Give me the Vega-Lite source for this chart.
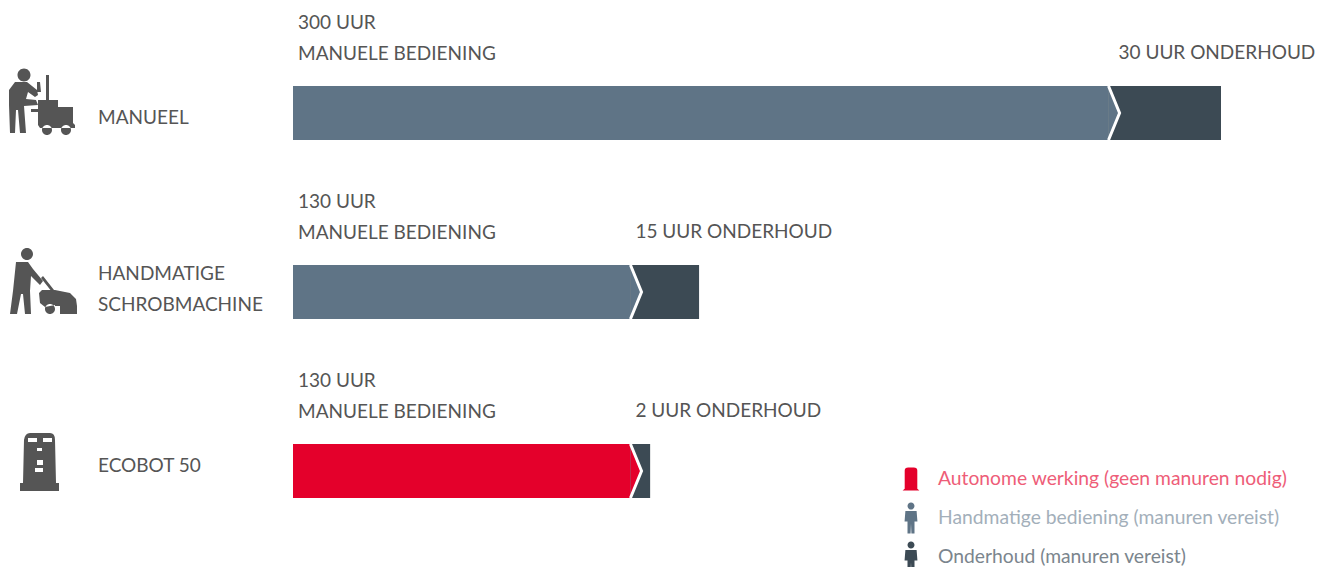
{"$schema":"https://vega.github.io/schema/vega-lite/v6.json","width":1320,"height":567,"padding":0,"autosize":{"type":"none"},"background":"#ffffff","config":{"view":{"stroke":null},"text":{"font":"Lato","fontSize":19,"fill":"#555555"}},
"data":{"values":[
{"machine":"MANUEEL","type":"Handmatige bediening (manuren vereist)","start":0,"end":290,"label":["300 UUR","MANUELE BEDIENING"],"name":["MANUEEL"]},
{"machine":"MANUEEL","type":"Onderhoud (manuren vereist)","start":290,"end":330,"label":["30 UUR ONDERHOUD"]},
{"machine":"HANDMATIGE SCHROBMACHINE","type":"Handmatige bediening (manuren vereist)","start":0,"end":120,"label":["130 UUR","MANUELE BEDIENING"],"name":["HANDMATIGE","SCHROBMACHINE"]},
{"machine":"HANDMATIGE SCHROBMACHINE","type":"Onderhoud (manuren vereist)","start":120,"end":144.4,"label":["15 UUR ONDERHOUD"]},
{"machine":"ECOBOT 50","type":"Autonome werking (geen manuren nodig)","start":0,"end":120,"label":["130 UUR","MANUELE BEDIENING"],"name":["ECOBOT 50"]},
{"machine":"ECOBOT 50","type":"Onderhoud (manuren vereist)","start":120,"end":127,"label":["2 UUR ONDERHOUD"]}
]},
"encoding":{
"x":{"field":"start","type":"quantitative","axis":null,"scale":{"domain":[0,330],"range":[293,1221]}},
"y":{"field":"machine","type":"nominal","axis":null,"scale":{"type":"band","domain":["MANUEEL","HANDMATIGE SCHROBMACHINE","ECOBOT 50"],"range":[23.5,560.5],"paddingInner":0,"paddingOuter":0}}
},
"layer":[
{"mark":{"type":"bar","height":54},"encoding":{"x2":{"field":"end"},"color":{"field":"type","type":"nominal","scale":{"domain":["Autonome werking (geen manuren nodig)","Handmatige bediening (manuren vereist)","Onderhoud (manuren vereist)"],"range":["#e4002b","#5f7486","#3c4a54"]}}}},
{"transform":[{"filter":"datum.start === 0"}],"mark":{"type":"point","shape":"M0,-1L0.41,0L0,1Z","size":2916,"filled":true,"opacity":1,"strokeWidth":0},"encoding":{"x":{"field":"end","type":"quantitative"},"color":{"field":"type","type":"nominal"}}},
{"transform":[{"filter":"datum.start === 0"}],"mark":{"type":"point","shape":"M0,-1L0.41,0L0,1","size":2916,"filled":false,"opacity":1,"stroke":"#ffffff","strokeWidth":3},"encoding":{"x":{"field":"end","type":"quantitative"}}},
{"mark":{"type":"text","align":"left","baseline":"middle","lineHeight":31,"yOffset":{"expr":"datum.label.length > 1 ? -90 : -60"},"xOffset":{"expr":"datum.end > 300 ? 10 : 5"}},"encoding":{"text":{"field":"label"}}},
{"transform":[{"filter":"datum.start === 0"}],"mark":{"type":"text","align":"left","baseline":"middle","lineHeight":31,"xOffset":-195,"yOffset":{"expr":"datum.machine === 'MANUEEL' ? 5 : datum.machine === 'ECOBOT 50' ? -5 : -18"}},"encoding":{"x":{"datum":0},"text":{"field":"name"}}},
{"transform":[{"filter":"datum.machine === 'MANUEEL' && datum.start === 0"}],"mark":{"type":"point","filled":true,"size":4,"fill":"#555555","opacity":1,"strokeWidth":0,"xOffset":-253,"yOffset":-13,"shape":"M-22.5,-25a6.5,6.5 0 1,0 13,0a6.5,6.5 0 1,0 -13,0ZM-25,-18L-13,-18L-3,-10L-2,-5L-5,-3L-12,-8L-14,-1L-4,0L-2,5L-16,6L-14,33L-20,33L-22,10L-24,10L-25,33L-30,33L-31,5L-31,-10ZM6,-25L9,-25L9,0L18,0L18,7L33,7L33,23L35,25L35,28L0,28L-2,25L-2,12L-9,12L-9,9L-2,9L-2,0L6,0ZM-3,-18L0,-18L1,-8L-3,-8ZM2,30a5,5 0 1,0 10,0a5,5 0 1,0 -10,0ZM21,30a5,5 0 1,0 10,0a5,5 0 1,0 -10,0Z"},"encoding":{"x":{"datum":0}}},
{"transform":[{"filter":"datum.machine === 'HANDMATIGE SCHROBMACHINE' && datum.start === 0"}],"mark":{"type":"point","filled":true,"size":4,"fill":"#555555","opacity":1,"strokeWidth":0,"xOffset":-253,"yOffset":-11,"shape":"M-19,-27a6,6 0 1,0 12,0a6,6 0 1,0 -12,0ZM-24,-19L-12,-19L-7,-12L3,0L0,4L-9,-5L-10,10L-9,33L-15,33L-17,13L-19,13L-23,33L-30,33L-27,10ZM1,-3L3,-5L14,9L12,11ZM-1,12L2,9L15,9L30,12L36,18L37,25L20,25L20,33L37,33L37,25L15,25L15,24L5,26L0,22ZM5,28a5,5 0 1,0 10,0a5,5 0 1,0 -10,0Z"},"encoding":{"x":{"datum":0}}},
{"transform":[{"filter":"datum.machine === 'ECOBOT 50' && datum.start === 0"}],"mark":{"type":"point","filled":true,"size":4,"fill":"#555555","opacity":1,"strokeWidth":0,"xOffset":-253,"yOffset":-11,"shape":"M-10,-27L10,-27Q15,-27 15,-20L16,23L19,23L19,31L-20,31L-20,23L-17,23L-16,-20Q-15,-27 -10,-27ZM-12,-22L-12,-18L-3,-18L-3,-22ZM3,-22L3,-18L12,-18L12,-22ZM-3,-12L-3,-9L2,-9L2,-12ZM-3,0L-3,5L3,5L3,0ZM-5,8L-5,12L3,12L3,8Z"},"encoding":{"x":{"datum":0}}},
{"mark":{"type":"point","filled":true,"size":0},"encoding":{
"color":{"field":"type","type":"nominal","legend":{"title":null,"orient":"none","legendX":897,"legendY":465,"symbolSize":784,"symbolStrokeWidth":0,"symbolOpacity":1,"rowPadding":7,"labelOffset":13,"labelFont":"Lato","labelFontSize":19.3,"labelLimit":400,"labelColor":{"expr":"datum.label[0] === 'A' ? '#ee5d78' : datum.label[0] === 'H' ? '#a3afba' : '#7b858d'"}}},
"shape":{"field":"type","type":"nominal","scale":{"domain":["Autonome werking (geen manuren nodig)","Handmatige bediening (manuren vereist)","Onderhoud (manuren vereist)"],"range":["M0,-1.1L0,-1.1ZM0,1.1L0,1.1ZM-0.45,0.7L-0.45,-0.6Q-0.45,-0.82 -0.2,-0.82L0.2,-0.82Q0.45,-0.82 0.45,-0.6L0.45,0.7L0.6,0.82L-0.6,0.82Z","M-0.25,-0.85a0.25,0.25 0 1,0 0.5,0a0.25,0.25 0 1,0 -0.5,0ZM-0.4,-0.5L0.4,-0.5L0.46,0.25L0.25,0.25L0.25,1.1L0.03,1.1L0,0.4L-0.03,1.1L-0.25,1.1L-0.25,0.25L-0.46,0.25Z","M-0.25,-0.85a0.25,0.25 0 1,0 0.5,0a0.25,0.25 0 1,0 -0.5,0ZM-0.4,-0.5L0.4,-0.5L0.46,0.25L0.25,0.25L0.25,1.1L0.03,1.1L0,0.4L-0.03,1.1L-0.25,1.1L-0.25,0.25L-0.46,0.25Z"]},"legend":{"title":null,"orient":"none","legendX":897,"legendY":465,"symbolSize":784,"symbolStrokeWidth":0,"symbolOpacity":1,"rowPadding":7,"labelOffset":13,"labelFont":"Lato","labelFontSize":19.3,"labelLimit":400,"labelColor":{"expr":"datum.label[0] === 'A' ? '#ee5d78' : datum.label[0] === 'H' ? '#a3afba' : '#7b858d'"}}}
}}
]}
